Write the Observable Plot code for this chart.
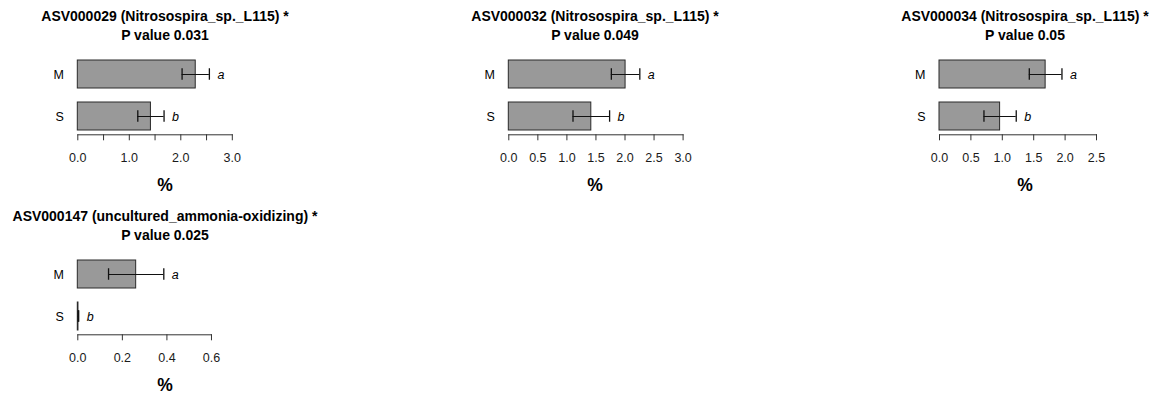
<!DOCTYPE html>
<html>
<head>
<meta charset="utf-8">
<script src="https://cdn.jsdelivr.net/npm/d3@7"></script>
<script src="https://cdn.jsdelivr.net/npm/@observablehq/plot@0.6"></script>
<style>
  body { margin: 0; background: #fff; }
  #fig { position: relative; width: 1157px; height: 394px; overflow: hidden; background: #fff;
         font-family: "Liberation Sans", Arial, Helvetica, sans-serif; color: #000; }
  .panel { position: absolute; width: 430px; height: 200px; }
  .panel svg { position: absolute; left: 0; top: 0; }
  .title { position: absolute; left: 0; top: 7px; width: 430px; text-align: center;
           font-weight: bold; font-size: 14px; line-height: 19px; white-space: nowrap; }
  .xlab { position: absolute; left: 0; top: 178px; width: 430px; text-align: center;
          font-weight: bold; font-size: 17.5px; line-height: 14px; }
</style>
</head>
<body>
<div id="fig"></div>
<script>
// Relative abundance (%) of ammonia-oxidizer ASVs in groups M and S (mean ± SE)
const asvIds = ["ASV000029", "ASV000032", "ASV000034", "ASV000147"];
const taxa = ["Nitrosospira_sp._L115", "Nitrosospira_sp._L115", "Nitrosospira_sp._L115", "uncultured_ammonia-oxidizing"];
const pValues = ["0.031", "0.049", "0.05", "0.025"];
const groups = ["M", "S"];
const meanM = [2.29, 2.01, 1.69, 0.262];
const meanS = [1.42, 1.42, 0.965, 0.003];
const seM = [0.265, 0.245, 0.26, 0.124];
const seS = [0.255, 0.315, 0.257, 0.001];
const lettersM = ["a", "a", "a", "a"];
const lettersS = ["b", "b", "b", "b"];
const tickValues = [
  [0, 0.5, 1, 1.5, 2, 2.5, 3],
  [0, 0.5, 1, 1.5, 2, 2.5, 3],
  [0, 0.5, 1, 1.5, 2, 2.5],
  [0, 0.2, 0.4, 0.6]
];
const tickLabels = [
  [0, 1, 2, 3],
  [0, 0.5, 1, 1.5, 2, 2.5, 3],
  [0, 0.5, 1, 1.5, 2, 2.5],
  [0, 0.2, 0.4, 0.6]
];

// Panel layout (pixels)
const panelCenter = [165, 595, 1025, 165];
const panelRow = [0, 0, 0, 1];
const axisOrigin = [77.3, 508.3, 939, 77.3];
const pxPerUnit = [51.5, 58.1, 62.8, 222.8];
const panelW = 430, panelH = 200, rowH = 200;

const fig = document.getElementById("fig");

asvIds.forEach((id, i) => {
  const rows = groups.map((g, j) => {
    const mean = j === 0 ? meanM[i] : meanS[i];
    const se = j === 0 ? seM[i] : seS[i];
    return { group: g, mean, lo: mean - se, hi: mean + se, letter: j === 0 ? lettersM[i] : lettersS[i] };
  });
  const ticks = tickValues[i];
  const last = ticks[ticks.length - 1];
  const left = panelCenter[i] - panelW / 2;
  const marginLeft = axisOrigin[i] - left;
  const inner = pxPerUnit[i] * last;
  const labelSet = new Set(tickLabels[i]);

  const panel = document.createElement("div");
  panel.className = "panel";
  panel.style.left = left + "px";
  panel.style.top = panelRow[i] * rowH + "px";

  const svg = Plot.plot({
    width: panelW,
    height: panelH,
    marginLeft,
    marginRight: panelW - marginLeft - inner,
    marginTop: 55,
    marginBottom: 65.7,
    style: { fontFamily: "Liberation Sans, Arial, sans-serif", fontSize: "12.5px", color: "#000", background: "transparent", overflow: "visible" },
    x: { domain: [0, last], label: null },
    y: { type: "band", domain: groups, range: [60, 131], paddingInner: 0.33, paddingOuter: 0, label: null },
    marks: [
      Plot.barX(rows, { x: "mean", y: "group", fill: "#999999", stroke: "#2a2a2a", strokeWidth: 1 }),
      Plot.ruleY(rows, { y: "group", x1: "lo", x2: "hi", stroke: "#111", strokeWidth: 1 }),
      Plot.tickX(rows, { x: "lo", y: "group", stroke: "#111", strokeWidth: 1.3, insetTop: 8.25, insetBottom: 8.25 }),
      Plot.tickX(rows, { x: "hi", y: "group", stroke: "#111", strokeWidth: 1.3, insetTop: 8.25, insetBottom: 8.25 }),
      Plot.text(rows, { x: "hi", y: "group", text: "letter", textAnchor: "start", dx: 8, fontStyle: "italic", fontSize: 12.5, fill: "#000" }),
      Plot.frame({ anchor: "bottom", stroke: "#333" }),
      Plot.axisX({ ticks, tickSize: 6, tickPadding: 12, stroke: "#333", label: null,
                   tickFormat: d => labelSet.has(d) ? d.toFixed(1) : "", fill: "#1a1a1a" }),
      Plot.axisY({ tickSize: 0, tickPadding: 14, fill: "#000", label: null })
    ]
  });
  panel.appendChild(svg);

  const title = document.createElement("div");
  title.className = "title";
  title.innerHTML = `${id} (${taxa[i]}) *<br>P value ${pValues[i]}`;
  panel.appendChild(title);

  const xlab = document.createElement("div");
  xlab.className = "xlab";
  xlab.textContent = "%";
  panel.appendChild(xlab);

  fig.appendChild(panel);
});
</script>
</body>
</html>
